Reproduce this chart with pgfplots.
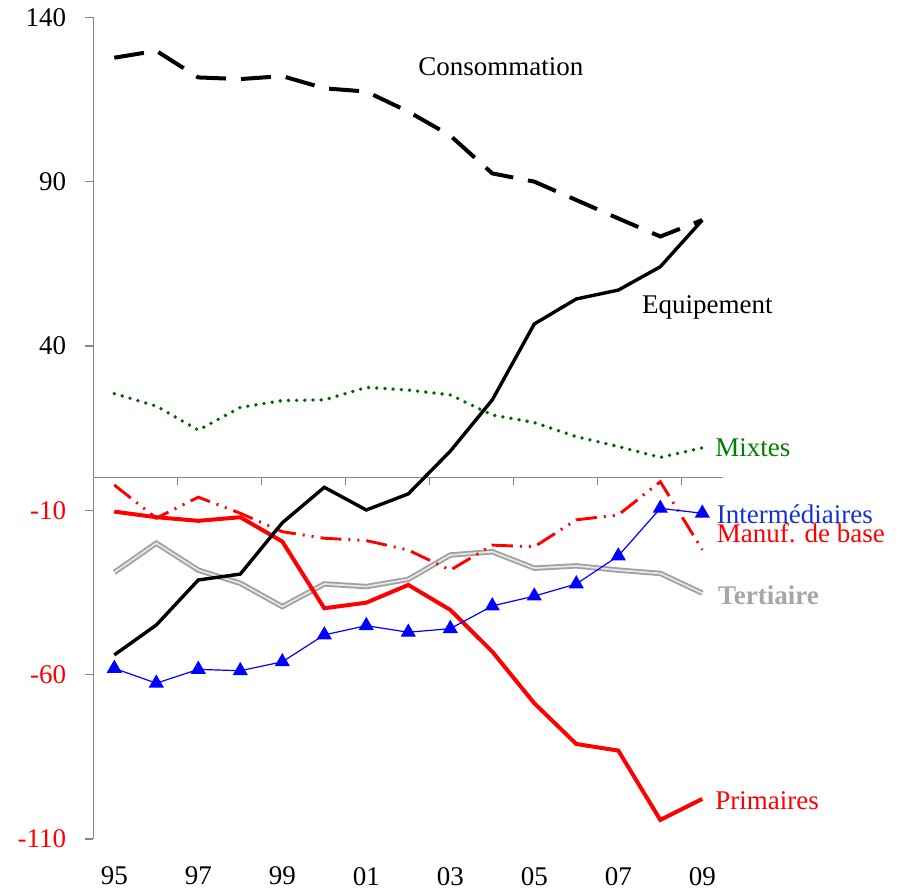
\documentclass[border=0pt]{standalone}
\usepackage{pgfplots}
\pgfplotsset{compat=1.18}
\usepackage{fontspec}
\setmainfont{Liberation Serif}
\definecolor{axisgray}{RGB}{134,134,134}
\definecolor{mixdots}{RGB}{0,100,0}
\definecolor{mixtext}{RGB}{0,128,0}
\definecolor{intblue}{RGB}{20,50,210}
\definecolor{tertgray}{RGB}{166,166,166}
\definecolor{tertline}{RGB}{160,160,160}
\begin{document}
\begin{tikzpicture}[font=\fontsize{13.5pt}{16pt}\selectfont]
\path[use as bounding box] (-46.65pt,-26.5pt) rectangle (405.35pt,419.5pt);
\begin{axis}[
  at={(0,0)}, anchor=south west,
  scale only axis, width=315pt, height=410.85pt,
  xmin=94.5, xmax=109.5, ymin=-110, ymax=140,
  axis x line*=bottom, axis y line*=left,
  x axis line style={draw=none},
  y axis line style={axisgray, line width=0.6pt},
  xtick={95,97,...,109},
  xticklabels={95,97,99,01,03,05,07,09},
  xtick style={draw=none},
  ytick={-110,-60,-10,40,90,140},
  yticklabels={\textcolor{red}{-110},\textcolor{red}{-60},\textcolor{red}{-10},40,90,140},
  ytick style={axisgray, line width=0.6pt},
  tick align=outside, major tick length=4pt,
  xticklabel style={yshift=-6.5pt},
  yticklabel style={xshift=-6pt},
  clip=false,
  /pgf/number format/assume math mode=true,
]
% zero line with its ticks
\draw[axisgray, line width=0.6pt] (axis cs:94.5,0) -- (axis cs:109.5,0);
\draw[axisgray, line width=0.6pt] (axis cs:96.5,0) -- ++(0pt,-4pt);
\draw[axisgray, line width=0.6pt] (axis cs:98.5,0) -- ++(0pt,-4pt);
\draw[axisgray, line width=0.6pt] (axis cs:100.5,0) -- ++(0pt,-4pt);
\draw[axisgray, line width=0.6pt] (axis cs:102.5,0) -- ++(0pt,-4pt);
\draw[axisgray, line width=0.6pt] (axis cs:104.5,0) -- ++(0pt,-4pt);
\draw[axisgray, line width=0.6pt] (axis cs:106.5,0) -- ++(0pt,-4pt);
\draw[axisgray, line width=0.6pt] (axis cs:108.5,0) -- ++(0pt,-4pt);

% Tertiaire
\addplot[tertline, line width=0.9pt, double=white!80!gray, double distance=0.9pt, no marks] coordinates {
(95,-28.9) (96,-20) (97,-28.2) (98,-32.2) (99,-39.3) (100,-32.4) (101,-33.2) (102,-31)
(103,-23.6) (104,-22.6) (105,-27.6) (106,-26.9) (107,-28.2) (108,-29.2) (109,-35.2)};
% Manuf. de base
\addplot[red, line width=1.45pt, dash pattern=on 10.5pt off 3.5pt on 1pt off 3.5pt on 1pt off 3.5pt, no marks] coordinates {
(95,-2.3) (96,-12.4) (97,-6) (98,-10.9) (99,-16.5) (100,-18.5) (101,-19.2) (102,-22.1)
(103,-28.2) (104,-20.6) (105,-21.1) (106,-12.9) (107,-11.4) (108,-1.3) (109,-22)};
% Mixtes
\addplot[mixdots, line width=1.9pt, line cap=round, dash pattern=on 0pt off 4.1pt, no marks] coordinates {
(95,25.5) (96,21.7) (97,14.4) (98,21.3) (99,23.4) (100,23.6) (101,27.4) (102,26.6)
(103,25.1) (104,19) (105,16.7) (106,12.4) (107,9.4) (108,6.1) (109,9)};
% Primaires
\addplot[red, line width=2pt, no marks] coordinates {
(95,-10.4) (96,-12.1) (97,-13.2) (98,-12.1) (99,-19.5) (100,-39.8) (101,-38.1) (102,-32.7)
(103,-40.3) (104,-53) (105,-68.7) (106,-81.1) (107,-83.1) (108,-104.2) (109,-97.8)};
% Intermediaires
\addplot[blue, line width=0.6pt, mark=triangle*, mark size=3.8pt, mark options={solid, fill=blue}] coordinates {
(95,-58.1) (96,-62.6) (97,-58.4) (98,-58.8) (99,-56.1) (100,-47.9) (101,-45.1) (102,-47.1)
(103,-46) (104,-39.1) (105,-36.1) (106,-32.4) (107,-23.9) (108,-9.4) (109,-10.9)};
% Equipement
\addplot[black, line width=1.7pt, no marks] coordinates {
(95,-54) (96,-44.9) (97,-31.2) (98,-29.4) (99,-13.8) (100,-3) (101,-9.9) (102,-5)
(103,8) (104,23.6) (105,46.7) (106,54.3) (107,57) (108,64.1) (109,78.3)};
% Consommation
\addplot[black, line width=2pt, dash pattern=on 15pt off 7.5pt, no marks] coordinates {
(95,127.7) (96,129.8) (97,121.7) (98,121.2) (99,122.1) (100,118.4) (101,117.4) (102,111.3)
(103,104) (104,92.5) (105,90) (106,84.4) (107,78.8) (108,73.3) (109,78.3)};

% labels
\node[anchor=base west, inner sep=0pt] at (axis cs:102.23,122.4) {Consommation};
\node[anchor=base west, inner sep=0pt] at (axis cs:107.56,49.9) {Equipement};
\node[anchor=base west, inner sep=0pt, text=mixtext] at (axis cs:109.30,6.3) {Mixtes};
\node[anchor=base west, inner sep=0pt, text=intblue] at (axis cs:109.34,-14) {Intermédiaires};
\node[anchor=base west, inner sep=0pt, text=red] at (axis cs:109.34,-19.9) {Manuf. de base};
\node[anchor=base west, inner sep=0pt, text=tertgray, font=\fontsize{13.5pt}{16pt}\selectfont\bfseries] at (axis cs:109.37,-38.8) {Tertiaire};
\node[anchor=base west, inner sep=0pt, text=red] at (axis cs:109.30,-100.96) {Primaires};
\end{axis}
\end{tikzpicture}
\end{document}
